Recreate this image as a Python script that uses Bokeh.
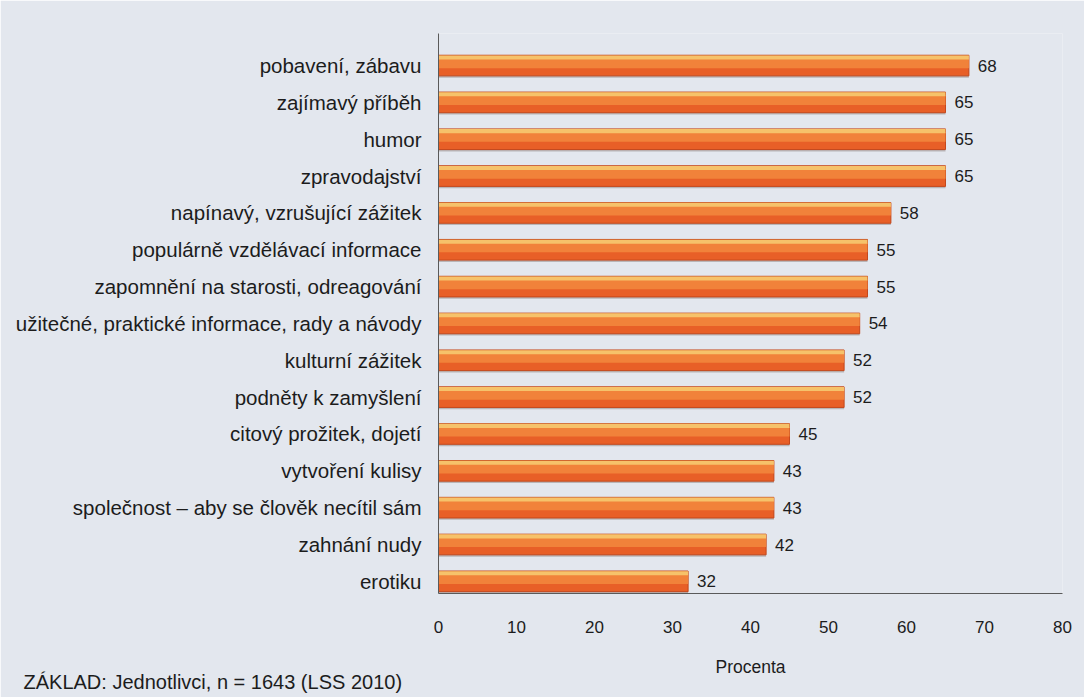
from bokeh.plotting import figure
from bokeh.models import Range1d, FixedTicker, ColumnDataSource, Title
from bokeh.embed import file_html
from bokeh.resources import INLINE

categories = [
    "pobavení, zábavu",
    "zajímavý příběh",
    "humor",
    "zpravodajství",
    "napínavý, vzrušující zážitek",
    "populárně vzdělávací informace",
    "zapomnění na starosti, odreagování",
    "užitečné, praktické informace, rady a návody",
    "kulturní zážitek",
    "podněty k zamyšlení",
    "citový prožitek, dojetí",
    "vytvoření kulisy",
    "společnost – aby se člověk necítil sám",
    "zahnání nudy",
    "erotiku",
]
values = [68, 65, 65, 65, 58, 55, 55, 54, 52, 52, 45, 43, 43, 42, 32]
x_ticks = [0, 10, 20, 30, 40, 50, 60, 70, 80]

FONT = "Liberation Sans"
BG = "#e3e7ee"
TXT = "#1c1c1c"

n = len(categories)
ypos = [n - 1 - i for i in range(n)]
BAR_H = 0.56

src = ColumnDataSource(dict(
    y=ypos,
    v=values,
    lab=[str(v) for v in values],
    lx=[v + 1.15 for v in values],
    shadow_y=[y - 0.05 for y in ypos],
    top_y=[y + BAR_H / 2 - 0.06 for y in ypos],
    mid_y=[y + 0.06 for y in ypos],
))

p = figure(
    width=1084, height=697,
    x_range=Range1d(0, 80), y_range=Range1d(-0.33, n - 1 + 0.87),
    output_backend="svg", toolbar_location=None,
    min_border_left=438, min_border_right=22,
    min_border_top=33, min_border_bottom=104,
)
p.background_fill_color = BG
p.border_fill_color = BG
p.outline_line_color = None
p.grid.grid_line_color = None

# soft drop shadow, bar body, lighter middle band and a pale top highlight
p.hbar(y="shadow_y", right="v", left=0, height=BAR_H, source=src,
       fill_color="#6b5a50", fill_alpha=0.35, line_color=None)
p.hbar(y="y", right="v", left=0, height=BAR_H, source=src,
       fill_color="#e85f27", line_color="#c4481c", line_width=1)
p.hbar(y="mid_y", right="v", left=0, height=0.26, source=src,
       fill_color="#f1823a", line_color=None)
p.hbar(y="top_y", right="v", left=0, height=0.11, source=src,
       fill_color="#f6c26a", line_color=None)

p.text(x="lx", y="y", text="lab", source=src,
       text_font={"value": FONT}, text_font_size="17px",
       text_color=TXT, text_baseline="middle", text_align="left")

# category axis
p.yaxis.ticker = FixedTicker(ticks=ypos)
p.yaxis.major_label_overrides = {y: c for y, c in zip(ypos, categories)}
p.yaxis.major_tick_line_color = None
p.yaxis.minor_tick_line_color = None
p.yaxis.axis_line_color = "#5a5a5a"
p.yaxis.major_label_text_font = FONT
p.yaxis.major_label_text_font_size = "20.5px"
p.yaxis.major_label_text_color = TXT
p.yaxis.major_label_standoff = 11

# value axis
p.xaxis.ticker = FixedTicker(ticks=x_ticks)
p.xaxis.major_tick_line_color = None
p.xaxis.minor_tick_line_color = None
p.xaxis.axis_line_color = "#5a5a5a"
p.xaxis.major_label_text_font = FONT
p.xaxis.major_label_text_font_size = "17px"
p.xaxis.major_label_text_color = TXT
p.xaxis.major_label_standoff = 21
p.xaxis.axis_label = "Procenta"
p.xaxis.axis_label_text_font = FONT
p.xaxis.axis_label_text_font_size = "17.5px"
p.xaxis.axis_label_text_font_style = "normal"
p.xaxis.axis_label_text_color = TXT
p.xaxis.axis_label_standoff = 21

# source note under the chart, pulled left to the page edge
foot = Title(text="ZÁKLAD: Jednotlivci, n = 1643 (LSS 2010)", align="left",
             text_font=FONT, text_font_size="20px", text_font_style="normal",
             text_color=TXT, offset=-415, standoff=-26)
p.add_layout(foot, "below")

open("out.html", "w").write(file_html(p, INLINE))
